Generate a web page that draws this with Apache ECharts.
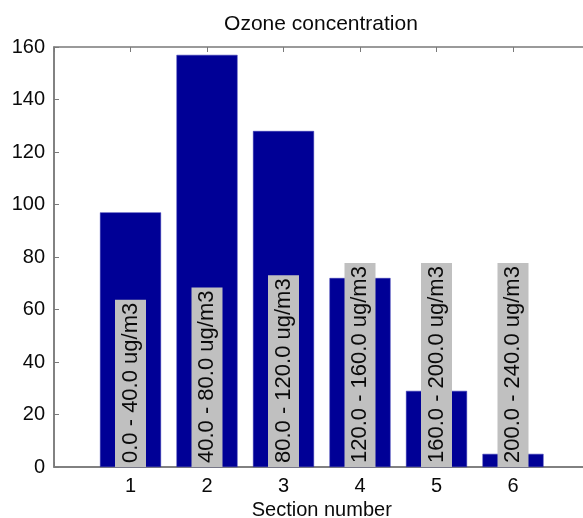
<!DOCTYPE html>
<html>
<head>
<meta charset="utf-8">
<script src="https://cdn.jsdelivr.net/npm/echarts@6/dist/echarts.min.js"></script>
<style>
html,body{margin:0;padding:0;background:#fff;}
#chart{width:583px;height:518px;}
</style>
</head>
<body>
<div id="chart"></div>
<script>
const sections = [1, 2, 3, 4, 5, 6];
const counts = [97, 157, 128, 72, 29, 5];
const rangeLabels = ["0.0 - 40.0 ug/m3", "40.0 - 80.0 ug/m3", "80.0 - 120.0 ug/m3",
  "120.0 - 160.0 ug/m3", "160.0 - 200.0 ug/m3", "200.0 - 240.0 ug/m3"];
const yTicks = [0, 20, 40, 60, 80, 100, 120, 140, 160];
const titleText = "Ozone concentration";
const xName = "Section number";

const FONT = "Liberation Sans, Arial, sans-serif";
const AX = "#7a7a7a";
const TXT = "#0a0a0a";
const chart = echarts.init(document.getElementById('chart'), null, {renderer: 'canvas'});
chart.setOption({
  animation: false,
  backgroundColor: '#fff',
  title: {
    text: titleText, left: 321, top: 14, padding: 0, textAlign: 'center',
    textStyle: {fontFamily: FONT, fontSize: 21, fontWeight: 'normal', color: TXT}
  },
  grid: {
    left: 54, top: 47, width: 535.5, bottom: 51, outerBoundsMode: 'none', containLabel: false,
    show: true, borderColor: AX, borderWidth: 1.5, backgroundColor: 'transparent'
  },
  xAxis: [{
    type: 'value', min: 0, max: 7, interval: 1, position: 'bottom',
    name: xName, nameLocation: 'middle', nameGap: 30,
    nameTextStyle: {fontFamily: FONT, fontSize: 20, color: TXT},
    axisLine: {show: true, lineStyle: {color: AX, width: 1.5}},
    axisTick: {show: true, inside: true, length: 5, lineStyle: {color: AX}},
    splitLine: {show: false},
    axisLabel: {
      fontFamily: FONT, fontSize: 20, color: TXT, margin: 9,
      formatter: v => sections.indexOf(v) >= 0 ? String(v) : ''
    }
  }, {
    type: 'value', min: 0, max: 7, interval: 1, position: 'top',
    axisLine: {show: false},
    axisTick: {show: true, inside: true, length: 5, lineStyle: {color: AX}},
    axisLabel: {show: false}, splitLine: {show: false}
  }],
  yAxis: {
    type: 'value', min: 0, max: 160, interval: 20,
    axisLine: {show: true, lineStyle: {color: AX, width: 1.5}},
    axisTick: {show: true, inside: true, length: 5, lineStyle: {color: AX}},
    splitLine: {show: false},
    axisLabel: {
      fontFamily: FONT, fontSize: 20, color: TXT, margin: 9,
      formatter: v => yTicks.indexOf(v) >= 0 ? String(v) : ''
    }
  },
  series: [{
    type: 'bar', xAxisIndex: 0, barWidth: 61,
    itemStyle: {color: '#000096', borderColor: '#3030b0', borderWidth: 0.5},
    data: sections.map((s, i) => [s, counts[i]]),
    label: {
      show: true, position: 'insideBottom', rotate: 90, distance: 0,
      align: 'left', verticalAlign: 'middle',
      formatter: p => rangeLabels[p.dataIndex],
      fontFamily: FONT, fontSize: 22, lineHeight: 22, color: TXT,
      backgroundColor: '#c0c0c0', padding: [4.5, 3, 4.5, 4]
    }
  }]
});
</script>
</body>
</html>
